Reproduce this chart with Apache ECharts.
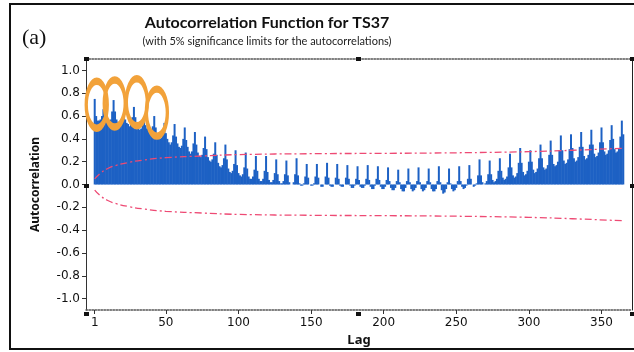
<!DOCTYPE html>
<html>
<head>
<meta charset="utf-8">
<script src="https://cdn.jsdelivr.net/npm/echarts@6/dist/echarts.min.js"></script>
<style>
  html, body { margin: 0; padding: 0; background: #fff; }
  #acf { width: 634px; height: 352px; }
</style>
</head>
<body>
<div id="acf"></div>
<script>
// ACF values, lag 1..365 (one row per week, centred on the weekly spike)
const acfValues = [
    0.75, 0.60, 0.56,
    0.56, 0.57, 0.60, 0.66, 0.60, 0.57, 0.56,
    0.55, 0.57, 0.64, 0.74, 0.64, 0.57, 0.55,
    0.53, 0.54, 0.57, 0.62, 0.57, 0.54, 0.53,
    0.51, 0.53, 0.59, 0.68, 0.59, 0.53, 0.50,
    0.48, 0.49, 0.52, 0.57, 0.52, 0.49, 0.47,
    0.45, 0.46, 0.51, 0.60, 0.50, 0.45, 0.42,
    0.40, 0.41, 0.46, 0.54, 0.45, 0.40, 0.37,
    0.35, 0.37, 0.43, 0.53, 0.42, 0.36, 0.33,
    0.32, 0.34, 0.40, 0.50, 0.39, 0.33, 0.29,
    0.27, 0.29, 0.36, 0.46, 0.35, 0.28, 0.25,
    0.24, 0.26, 0.32, 0.42, 0.31, 0.24, 0.21,
    0.20, 0.22, 0.27, 0.37, 0.26, 0.19, 0.16,
    0.15, 0.17, 0.23, 0.35, 0.22, 0.14, 0.11,
    0.10, 0.12, 0.18, 0.30, 0.17, 0.10, 0.08,
    0.07, 0.09, 0.15, 0.28, 0.14, 0.07, 0.05,
    0.05, 0.07, 0.13, 0.25, 0.12, 0.05, 0.03,
    0.03, 0.05, 0.12, 0.25, 0.11, 0.04, 0.02,
    0.02, 0.04, 0.10, 0.22, 0.09, 0.03, 0.01,
    0.01, 0.03, 0.09, 0.21, 0.08, 0.02, 0.00,
    0.00, 0.02, 0.09, 0.23, 0.08, 0.01, -0.01,
    -0.01, 0.01, 0.07, 0.18, 0.06, 0.00, -0.01,
    -0.01, 0.01, 0.07, 0.18, 0.06, 0.00, -0.02,
    -0.02, 0.00, 0.07, 0.19, 0.06, -0.01, -0.02,
    -0.02, 0.00, 0.06, 0.18, 0.05, -0.01, -0.02,
    -0.02, 0.00, 0.06, 0.17, 0.05, -0.01, -0.03,
    -0.03, -0.01, 0.05, 0.16, 0.04, -0.02, -0.03,
    -0.03, -0.01, 0.05, 0.17, 0.04, -0.02, -0.04,
    -0.04, -0.01, 0.05, 0.16, 0.04, -0.02, -0.04,
    -0.04, -0.02, 0.04, 0.15, 0.03, -0.03, -0.05,
    -0.05, -0.03, 0.03, 0.13, 0.02, -0.04, -0.06,
    -0.06, -0.03, 0.03, 0.14, 0.02, -0.04, -0.06,
    -0.05, -0.03, 0.03, 0.15, 0.02, -0.04, -0.06,
    -0.05, -0.03, 0.03, 0.14, 0.02, -0.04, -0.06,
    -0.06, -0.04, 0.03, 0.16, 0.02, -0.05, -0.08,
    -0.07, -0.04, 0.02, 0.14, 0.01, -0.04, -0.06,
    -0.05, -0.03, 0.03, 0.16, 0.03, -0.02, -0.04,
    -0.03, -0.01, 0.05, 0.17, 0.05, 0.00, -0.02,
    -0.01, 0.01, 0.08, 0.22, 0.08, 0.02, 0.00,
    0.01, 0.03, 0.09, 0.21, 0.09, 0.04, 0.02,
    0.03, 0.05, 0.12, 0.23, 0.12, 0.06, 0.04,
    0.05, 0.07, 0.15, 0.27, 0.15, 0.08, 0.06,
    0.07, 0.10, 0.19, 0.32, 0.19, 0.11, 0.08,
    0.09, 0.12, 0.20, 0.30, 0.20, 0.13, 0.10,
    0.11, 0.14, 0.23, 0.35, 0.23, 0.15, 0.13,
    0.14, 0.17, 0.26, 0.385, 0.26, 0.18, 0.16,
    0.17, 0.20, 0.30, 0.43, 0.30, 0.21, 0.18,
    0.19, 0.22, 0.31, 0.44, 0.32, 0.23, 0.20,
    0.21, 0.24, 0.33, 0.46, 0.33, 0.25, 0.22,
    0.23, 0.26, 0.35, 0.48, 0.35, 0.27, 0.24,
    0.25, 0.28, 0.37, 0.50, 0.37, 0.29, 0.26,
    0.27, 0.30, 0.39, 0.52, 0.40, 0.31, 0.28,
    0.29, 0.32, 0.42, 0.56, 0.44
];
const lags = acfValues.map((v, i) => i + 1);

// 5% significance limit (magnitude), read at a few lags
const limitLags = [1, 5, 10, 15, 25, 35, 50, 75, 100, 150, 200, 250, 300, 330, 365];
const limitValues = [0.05, 0.10, 0.14, 0.165, 0.195, 0.215, 0.235, 0.25, 0.262, 0.27, 0.273, 0.278, 0.288, 0.30, 0.318];

// axis ticks
const lagTicks = [1, 50, 100, 150, 200, 250, 300, 350];
const acfTicks = [-1.0, -0.8, -0.6, -0.4, -0.2, 0.0, 0.2, 0.4, 0.6, 0.8, 1.0];

// orange rings drawn on the first peaks
const ringLags = [2.4, 14.8, 30, 43.8];
const ringValues = [0.70, 0.71, 0.72, 0.63];

const chart = echarts.init(document.getElementById('acf'));

const fontUI = 'Lato';
const fontAxis = 'DejaVu Sans';
const ellipsePath = 'path://M0,20 A10,20 0 1,1 20,20 A10,20 0 1,1 0,20 Z';

// small selection handles on the plot frame
const handles = [[84, 57], [356, 57], [630, 57], [84, 184], [630, 184], [84, 312], [356, 312], [630, 312]];

const option = {
    backgroundColor: '#fff',
    animation: false,
    title: {
        text: 'Autocorrelation Function for TS37',
        subtext: '(with 5% significance limits for the autocorrelations)',
        left: 262,
        top: 10,
        textAlign: 'center',
        itemGap: 5,
        textStyle: { fontFamily: fontUI, fontSize: 16, fontWeight: 'bold', color: '#111' },
        subtextStyle: { fontFamily: fontUI, fontSize: 11, color: '#222' }
    },
    grid: { left: 86, right: 2, top: 59, bottom: 38 },
    xAxis: [{
        type: 'value',
        min: -5,
        max: 371,
        position: 'bottom',
        name: 'Lag',
        nameLocation: 'middle',
        nameGap: 24,
        nameTextStyle: { fontFamily: 'Noto Sans', fontSize: 13, fontWeight: 'bold', color: '#111' },
        axisLine: { show: true, onZero: false, lineStyle: { color: '#555', type: 'dotted', width: 1.5 } },
        axisTick: { show: true, customValues: lagTicks, length: 4, lineStyle: { color: '#333' } },
        axisLabel: { customValues: lagTicks, margin: 7, fontFamily: fontAxis, fontSize: 12, color: '#111' },
        splitLine: { show: false }
    }, {
        type: 'value',
        min: -5,
        max: 371,
        position: 'top',
        axisLine: { show: true, onZero: false, lineStyle: { color: '#555', type: 'dotted', width: 1.5 } },
        axisTick: { show: false },
        axisLabel: { show: false },
        splitLine: { show: false }
    }],
    yAxis: [{
        type: 'value',
        min: -1.1,
        max: 1.1,
        position: 'left',
        name: 'Autocorrelation',
        nameLocation: 'middle',
        nameGap: 44,
        nameTextStyle: { fontFamily: 'Noto Sans', fontSize: 12, fontWeight: 'bold', color: '#111' },
        axisLine: { show: true, onZero: false, lineStyle: { color: '#333', width: 1 } },
        axisTick: { show: true, customValues: acfTicks, length: 4, lineStyle: { color: '#333' } },
        axisLabel: {
            customValues: acfTicks,
            margin: 6,
            fontFamily: fontAxis,
            fontSize: 12,
            color: '#111',
            formatter: v => (Math.abs(v) < 1e-9 ? 0 : v).toFixed(1)
        },
        splitLine: { show: false }
    }, {
        type: 'value',
        min: -1.1,
        max: 1.1,
        position: 'right',
        axisLine: { show: true, onZero: false, lineStyle: { color: '#222', width: 1 } },
        axisTick: { show: false },
        axisLabel: { show: false },
        splitLine: { show: false }
    }],
    series: [{
        name: 'ACF',
        type: 'bar',
        data: lags.map((lag, i) => [lag, acfValues[i]]),
        barWidth: 2,
        itemStyle: { color: '#1d61c4' },
        z: 2
    }, {
        name: 'Upper limit',
        type: 'line',
        data: limitLags.map((lag, i) => [lag, limitValues[i]]),
        smooth: true,
        symbol: 'none',
        lineStyle: { color: '#ee4a74', width: 1.3, type: [7, 3, 2, 3] },
        z: 3
    }, {
        name: 'Lower limit',
        type: 'line',
        data: limitLags.map((lag, i) => [lag, -limitValues[i]]),
        smooth: true,
        symbol: 'none',
        lineStyle: { color: '#ee4a74', width: 1.3, type: [7, 3, 2, 3] },
        z: 3
    }, {
        name: 'Peaks',
        type: 'scatter',
        data: ringLags.map((lag, i) => [lag, ringValues[i]]),
        symbol: ellipsePath,
        symbolSize: [21, 47],
        itemStyle: { color: 'rgba(0,0,0,0)', borderColor: '#f2a23a', borderWidth: 5, opacity: 1 },
        z: 4
    }],
    graphic: [{
        type: 'rect',
        shape: { x: 10, y: 4, width: 700, height: 345 },
        style: { fill: 'none', stroke: '#111', lineWidth: 2 },
        silent: true
    }, {
        type: 'text',
        left: 22,
        top: 27,
        style: { text: '(a)', fontFamily: 'Liberation Serif', fontSize: 22, fill: '#111' }
    }].concat(handles.map(h => ({
        type: 'rect',
        shape: { x: h[0], y: h[1], width: 5, height: 4 },
        style: { fill: '#111' },
        z: 100
    })))
};

chart.setOption(option);
</script>
</body>
</html>
